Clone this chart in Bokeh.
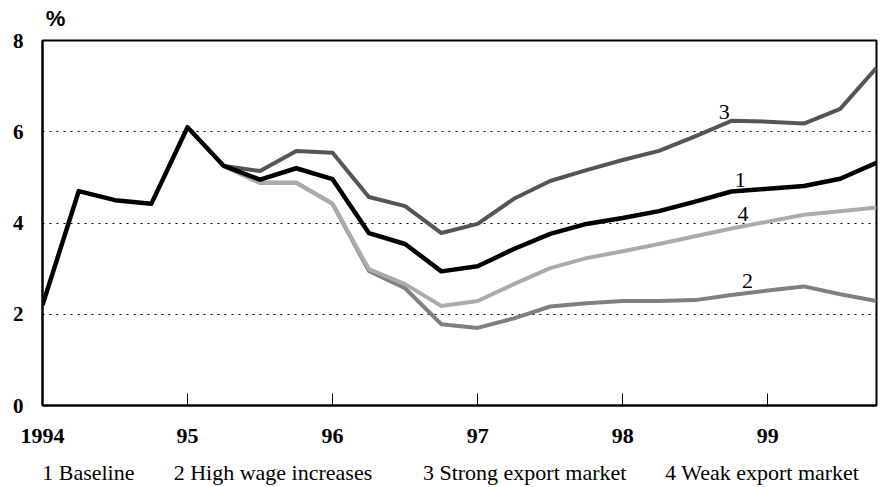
from bokeh.plotting import figure
from bokeh.models import Range1d, FixedTicker, Label, LinearAxis
from bokeh.embed import file_html
from bokeh.resources import INLINE

# ---- data ----
quarters = [1994.0, 1994.25, 1994.5, 1994.75, 1995.0, 1995.25, 1995.5, 1995.75,
            1996.0, 1996.25, 1996.5, 1996.75, 1997.0, 1997.25, 1997.5, 1997.75,
            1998.0, 1998.25, 1998.5, 1998.75, 1999.0, 1999.25, 1999.5, 1999.75]

baseline = [2.2, 4.7, 4.5, 4.42, 6.1, 5.25, 4.95, 5.2,
            4.96, 3.78, 3.54, 2.94, 3.05, 3.43, 3.76, 3.98,
            4.11, 4.26, 4.47, 4.69, 4.75, 4.81, 4.97, 5.32]

# scenarios start at 1995 Q2 (index 5)
high_wage = [5.25, 4.88, 4.88,
             4.42, 2.95, 2.57, 1.78, 1.70, 1.91, 2.17, 2.24,
             2.29, 2.29, 2.31, 2.42, 2.52, 2.61, 2.44, 2.29]
strong_export = [5.25, 5.14, 5.58,
                 5.54, 4.57, 4.37, 3.78, 3.98, 4.53, 4.92, 5.16,
                 5.38, 5.58, 5.90, 6.24, 6.22, 6.18, 6.50, 7.40]
weak_export = [5.25, 4.88, 4.88,
               4.42, 2.99, 2.66, 2.18, 2.29, 2.66, 3.01, 3.23,
               3.38, 3.54, 3.71, 3.88, 4.03, 4.18, 4.26, 4.34]

x_ticks = [1994, 1995, 1996, 1997, 1998, 1999]
x_tick_labels = ["1994", "95", "96", "97", "98", "99"]
y_ticks = [0, 2, 4, 6, 8]
grid_levels = [2, 4, 6]

legend_texts = ["1 Baseline", "2 High wage increases",
                "3 Strong export market", "4 Weak export market"]
series_tags = ["1", "2", "3", "4"]
unit_text = "%"

SERIF = "Liberation Serif"

p = figure(width=880, height=487, output_backend="svg", toolbar_location=None,
           x_range=Range1d(1994, 1999.75), y_range=Range1d(0, 8),
           min_border_left=42, min_border_right=4, min_border_top=40,
           min_border_bottom=10)
p.background_fill_color = "white"
p.border_fill_color = "white"
p.outline_line_color = "black"
p.outline_line_width = 2

# axes
p.xaxis.ticker = FixedTicker(ticks=x_ticks)
p.xaxis.major_label_overrides = {t: l for t, l in zip(x_ticks, x_tick_labels)}
p.xaxis.major_tick_in = 12
p.xaxis.major_tick_out = 0
p.xaxis.minor_tick_line_color = None
p.xaxis.axis_line_width = 2
p.xaxis.major_tick_line_width = 1
p.xaxis.major_label_standoff = 23
p.xaxis.major_label_text_font = SERIF
p.xaxis.major_label_text_font_style = "bold"
p.xaxis.major_label_text_font_size = "22px"
p.xaxis.major_label_text_color = "black"

p.yaxis.ticker = FixedTicker(ticks=y_ticks)
p.yaxis.major_tick_in = 0
p.yaxis.major_tick_out = 0
p.yaxis.minor_tick_line_color = None
p.yaxis.axis_line_width = 2
p.yaxis.major_label_standoff = 19
p.yaxis.major_label_text_font = SERIF
p.yaxis.major_label_text_font_style = "bold"
p.yaxis.major_label_text_font_size = "21px"
p.yaxis.major_label_text_color = "black"

# legend row as a label-only axis below the x axis
leg_centers = [1994.316, 1995.589, 1997.324, 1998.962]
leg_axis = LinearAxis(ticker=FixedTicker(ticks=leg_centers),
                      major_label_overrides={c: t for c, t in zip(leg_centers, legend_texts)},
                      axis_line_color=None, major_tick_line_color=None,
                      minor_tick_line_color=None, major_label_standoff=8,
                      major_label_text_font=SERIF, major_label_text_font_size="22px",
                      major_label_text_color="black")
p.add_layout(leg_axis, "below")

# unit sign as a label-only axis above the frame
unit_x = [1994.09]
unit_axis = LinearAxis(ticker=FixedTicker(ticks=unit_x),
                       major_label_overrides={unit_x[0]: unit_text},
                       axis_line_color=None, major_tick_line_color=None,
                       minor_tick_line_color=None, major_label_standoff=4,
                       major_label_text_font="Liberation Sans",
                       major_label_text_font_style="bold",
                       major_label_text_font_size="22px",
                       major_label_text_color="black")
p.add_layout(unit_axis, "above")

# grid
p.xgrid.grid_line_color = None
p.ygrid.ticker = FixedTicker(ticks=grid_levels)
p.ygrid.grid_line_color = "black"
p.ygrid.grid_line_width = 1
p.ygrid.grid_line_dash = "2 5"

# lines
sx = quarters[5:]
p.line(sx, high_wage, line_color="#808080", line_width=4, line_join="round")
p.line(sx, weak_export, line_color="#ababab", line_width=4, line_join="round")
p.line(sx, strong_export, line_color="#555555", line_width=4, line_join="round")
p.line(quarters, baseline, line_color="black", line_width=4.5, line_join="round")

# inline series tags
tag_pos = [(1998.81, 4.95), (1998.86, 2.73), (1998.70, 6.44), (1998.83, 4.20)]
for tag, (tx, ty) in zip(series_tags, tag_pos):
    p.add_layout(Label(x=tx, y=ty, text=tag, text_align="center",
                       text_baseline="middle", text_font=SERIF,
                       text_font_size="22px", text_color="black"))

open("out.html", "w").write(file_html(p, INLINE))
